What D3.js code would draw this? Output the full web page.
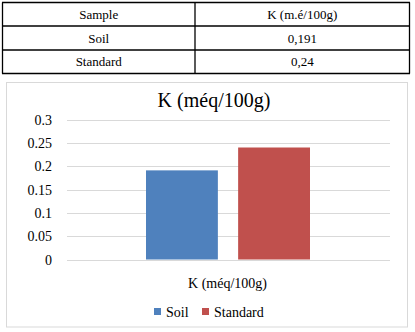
<!DOCTYPE html>
<html><head><meta charset="utf-8">
<script src="https://cdn.jsdelivr.net/npm/d3@7"></script>
</head><body style="margin:0">
<svg id="c" width="415" height="332" font-family="Liberation Serif"></svg>
<script>
const tableHeader = ["Sample", "K (m.é/100g)"];
const tableRows = [["Soil", "0,191"], ["Standard", "0,24"]];
const categories = ["K (méq/100g)"];
const seriesNames = ["Soil", "Standard"];
const seriesValues = [0.191, 0.24];
const colors = ["#4f81bd", "#c0504d"];
const yTicks = [0, 0.05, 0.1, 0.15, 0.2, 0.25, 0.3];
const chartTitle = "K (méq/100g)";

const svg = d3.select("#c");
const FONT = "Liberation Serif";

// Table
const tX0 = 2.5, tX1 = 409.5, tXm = 195, rowYs = [2.5, 26, 50, 73.5];
const tg = svg.append("g");
const allRows = [tableHeader, ...tableRows];
rowYs.forEach(yy => tg.append("line").attr("x1", tX0 - 0.5).attr("x2", tX1 + 0.5).attr("y1", yy).attr("y2", yy).attr("stroke", "#000").attr("stroke-width", 1.3));
[tX0, tXm, tX1].forEach(xx => tg.append("line").attr("x1", xx).attr("x2", xx).attr("y1", rowYs[0]).attr("y2", rowYs[3]).attr("stroke", "#000").attr("stroke-width", 1.3));
allRows.forEach((r, i) => {
  const cy = (rowYs[i] + rowYs[i + 1]) / 2;
  tg.append("text").attr("x", (tX0 + tXm) / 2).attr("y", cy + 4.5).attr("text-anchor", "middle")
    .attr("font-family", FONT).attr("font-size", 13).text(r[0]);
  tg.append("text").attr("x", (tXm + tX1) / 2).attr("y", cy + 4.5).attr("text-anchor", "middle")
    .attr("font-family", FONT).attr("font-size", 13).text(r[1]);
});

// Chart frame
svg.append("rect").attr("x", 6.5).attr("y", 82.5).attr("width", 401).attr("height", 244.5)
  .attr("fill", "#fff").attr("stroke", "#d9d9d9").attr("stroke-width", 1);

svg.append("text").attr("x", 214).attr("y", 107).attr("text-anchor", "middle")
  .attr("font-family", FONT).attr("font-size", 20).text(chartTitle);

const x0 = 67, x1 = 390;
const y = d3.scaleLinear().domain([0, 0.3]).range([259.5, 119.5]);
const xCat = d3.scaleBand().domain(categories).range([x0, x1]);
const xSer = d3.scaleBand().domain(seriesNames).range([146, 310]).paddingInner(0.22);

// grid
svg.append("g").selectAll("line").data(yTicks).join("line")
  .attr("x1", x0).attr("x2", x1).attr("y1", d => Math.round(y(d)) + 0.5).attr("y2", d => Math.round(y(d)) + 0.5)
  .attr("stroke", "#d9d9d9").attr("stroke-width", 1);

// y axis labels
svg.append("g").selectAll("text").data(yTicks).join("text")
  .attr("x", 52).attr("y", d => y(d) + 5).attr("text-anchor", "end")
  .attr("font-family", FONT).attr("font-size", 14).attr("fill", "#000")
  .text(d => String(+d.toFixed(2)));

// bars
svg.append("g").selectAll("rect").data(seriesValues).join("rect")
  .attr("x", (d, i) => xSer(seriesNames[i]))
  .attr("width", xSer.bandwidth())
  .attr("y", d => y(d))
  .attr("height", d => y(0) - y(d))
  .attr("fill", (d, i) => colors[i]);

// category label
svg.append("g").selectAll("text").data(categories).join("text")
  .attr("x", d => xCat(d) + xCat.bandwidth() / 2 - 1).attr("y", 288).attr("text-anchor", "middle")
  .attr("font-family", FONT).attr("font-size", 14).attr("fill", "#000").text(d => d);

// legend
const legX = [154, 202];
const lg = svg.append("g");
seriesNames.forEach((s, i) => {
  lg.append("rect").attr("x", legX[i]).attr("y", 308).attr("width", 7).attr("height", 7).attr("fill", colors[i]);
  lg.append("text").attr("x", legX[i] + 12).attr("y", 317)
    .attr("font-family", FONT).attr("font-size", 14).attr("fill", "#000").text(s);
});
</script>
</body></html>
